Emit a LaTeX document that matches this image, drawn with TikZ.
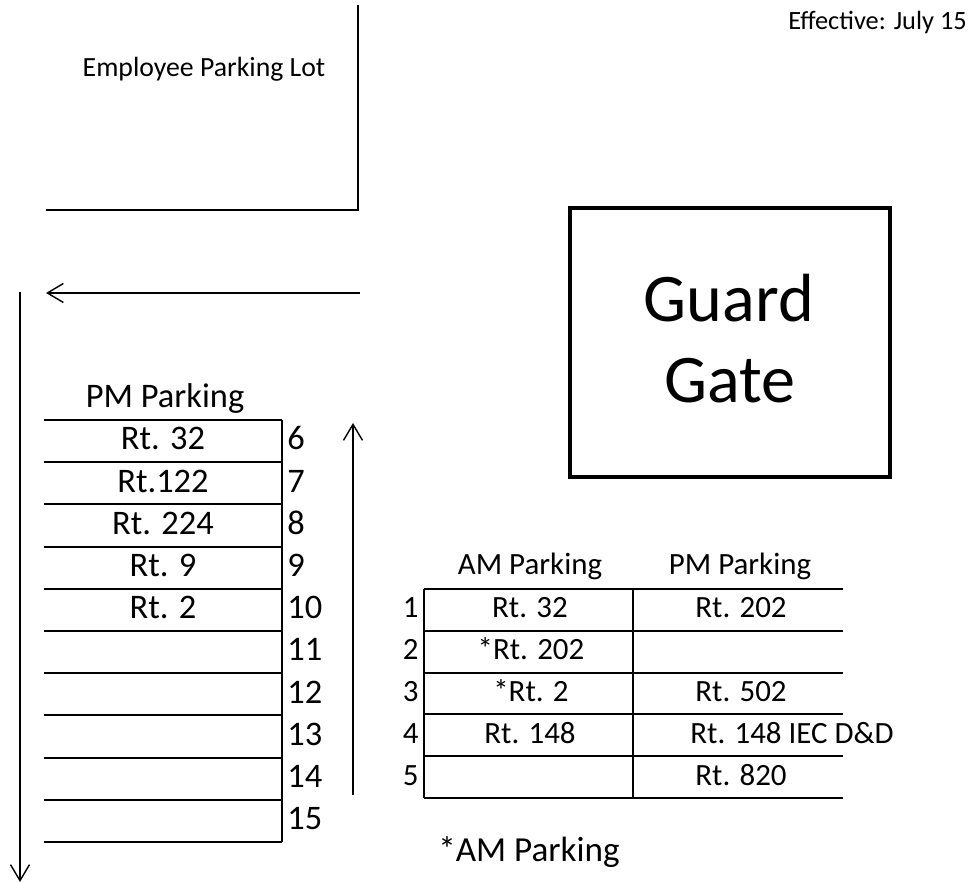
\documentclass[tikz,border=0pt]{standalone}
\usepackage{fontspec}
\setmainfont{Carlito}
\usetikzlibrary{arrows.meta,positioning}
\tikzset{
    routelbl/.style={font=\fontsize{17.6}{21}\selectfont, anchor=base, inner sep=0pt},
    slotnum/.style={font=\fontsize{17.6}{21}\selectfont, anchor=base west, inner sep=0pt},
    headlbl/.style={font=\fontsize{17.6}{21}\selectfont, anchor=base, inner sep=0pt},
    bigrow/.style={font=\fontsize{19.6}{23}\selectfont},
    smalllbl/.style={font=\fontsize{15.8}{19}\selectfont, inner sep=0pt},
}

\begin{document}
\begin{tikzpicture}[
            x=0.02cm, y=-0.02cm,
            >={Straight Barb[length=3.2mm, width=3.8mm]},
            rowline/.style={line width=1.1pt},
            lotline/.style={line width=1.2pt},
            flowarrow/.style={->, line width=0.8pt},
            gatebox/.style={draw, line width=2.2pt, minimum width=6.4cm,
            minimum height=5.38cm, inner sep=0pt},
            gatelbl/.style={font=\fontsize{38.8}{46}\selectfont, anchor=base, inner sep=0pt}
        ]
            \useasboundingbox (0,0) rectangle (971,884);
            % parking lot corner
            \coordinate (lottop) at (358,5);
            \coordinate (lotcorner) at (358,210);
            \coordinate (lotend) at (46,210);
            \draw[lotline] (lottop) -- (lotcorner) -- (lotend);
            \node[smalllbl, anchor=base] (lot) at (204,77) {Employee Parking Lot};
            \node[smalllbl, anchor=base west, font=\fontsize{15}{18}\selectfont] (eff) at (788,30) {Effective: July 15};
            % guard gate
            \node[gatebox] (gate) at (730,342.5) {};
            \node[gatelbl] (guardtxt) at (729,322) {Guard};
            \node[gatelbl] (gatetxt) at (730,403) {Gate};
            % traffic arrows
            \coordinate (inA) at (360,293);
            \coordinate (inB) at (46,293);
            \coordinate (downA) at (20,292);
            \coordinate (downB) at (20,882);
            \coordinate (upA) at (353,795);
            \coordinate (upB) at (353,423);
            \draw[flowarrow] (inA) -- (inB);
            \draw[flowarrow] (downA) -- (downB);
            \draw[flowarrow] (upA) -- (upB);
            % pm parking, left rows
            \node[headlbl, bigrow] (pmleft) at (165,408) {PM Parking};
            \draw[rowline] (44,420) -- (282,420) (44,462.2) -- (282,462.2)
                (44,504.4) -- (282,504.4) (44,546.6) -- (282,546.6)
                (44,588.8) -- (282,588.8) (44,631) -- (282,631)
                (44,673.2) -- (282,673.2) (44,715.4) -- (282,715.4)
                (44,757.6) -- (282,757.6) (44,799.8) -- (282,799.8)
                (44,842) -- (282,842);
            \draw[rowline] (282,420) -- (282,842);
            \node[routelbl, bigrow] (l6) at (163,450) {Rt. 32};
            \node[routelbl, bigrow] (l7) at (163,492.2) {Rt.122};
            \node[routelbl, bigrow] (l8) at (163,534.4) {Rt. 224};
            \node[routelbl, bigrow] (l9) at (163,576.6) {Rt. 9};
            \node[routelbl, bigrow] (l10) at (163,618.8) {Rt. 2};
            \node[slotnum, bigrow] (n6) at (287,450) {6};
            \node[slotnum, bigrow] (n7) at (287,492.2) {7};
            \node[slotnum, bigrow] (n8) at (287,534.4) {8};
            \node[slotnum, bigrow] (n9) at (287,576.6) {9};
            \node[slotnum, bigrow] (n10) at (287,618.8) {10};
            \node[slotnum, bigrow] (n11) at (287,661) {11};
            \node[slotnum, bigrow] (n12) at (287,703.2) {12};
            \node[slotnum, bigrow] (n13) at (287,745.4) {13};
            \node[slotnum, bigrow] (n14) at (287,787.6) {14};
            \node[slotnum, bigrow] (n15) at (287,829.8) {15};
            % am / pm parking, right rows
            \node[headlbl] (amhead) at (530,575) {AM Parking};
            \node[headlbl] (pmhead) at (740,575) {PM Parking};
            \draw[rowline] (424,589) -- (843,589) (424,630.8) -- (843,630.8)
                (424,672.6) -- (843,672.6) (424,714.4) -- (843,714.4)
                (424,756.2) -- (843,756.2) (424,798) -- (843,798);
            \draw[rowline] (424,589) -- (424,798) (633,589) -- (633,798);
            \node[slotnum, anchor=base east] (n1) at (419,618) {1};
            \node[slotnum, anchor=base east] (n2) at (419,659.8) {2};
            \node[slotnum, anchor=base east] (n3) at (419,701.6) {3};
            \node[slotnum, anchor=base east] (n4) at (419,743.4) {4};
            \node[slotnum, anchor=base east] (n5) at (419,785.2) {5};
            \node[routelbl] (a1) at (530,618) {Rt. 32};
            \node[routelbl] (a2) at (531,659.8) {*Rt. 202};
            \node[routelbl] (a3) at (531,701.6) {*Rt. 2};
            \node[routelbl] (a4) at (530,743.4) {Rt. 148};
            \node[routelbl, anchor=base west] (p1) at (695,618) {Rt. 202};
            \node[routelbl, anchor=base west] (p3) at (695,701.6) {Rt. 502};
            \node[routelbl, anchor=base west] (p4) at (690,743.4) {Rt. 148 IEC D\&D};
            \node[routelbl, anchor=base west] (p5) at (695,785.2) {Rt. 820};
            \node[headlbl, anchor=base west, font=\fontsize{20}{24}\selectfont] (note) at (438,862) {*AM Parking};
        \end{tikzpicture}
\end{document}
